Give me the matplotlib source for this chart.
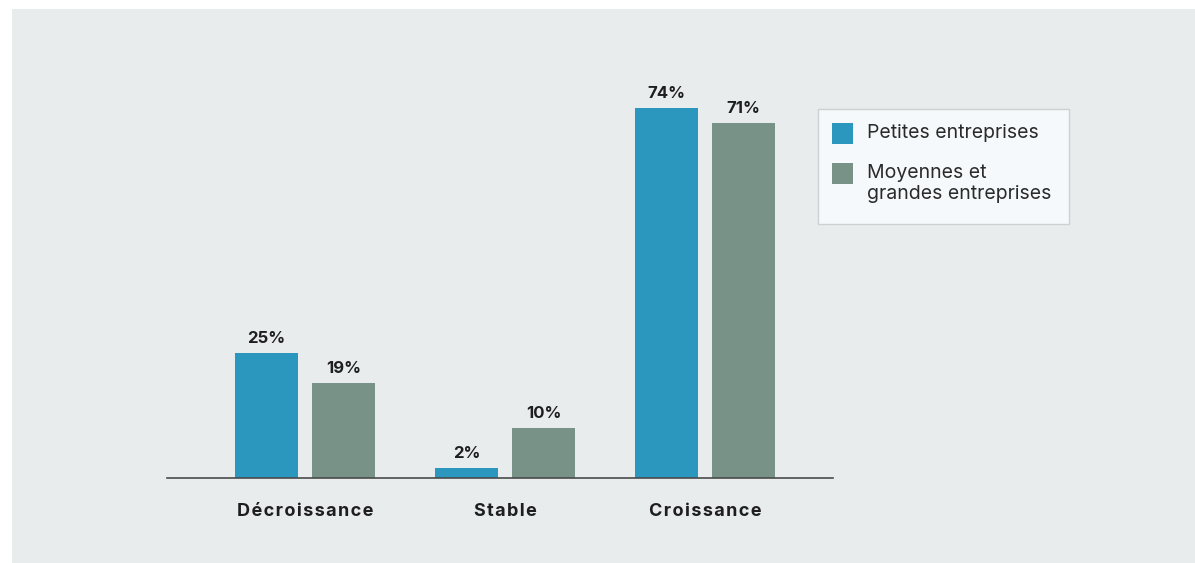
import matplotlib
matplotlib.use("Agg")
import matplotlib.pyplot as plt
from matplotlib.patches import Rectangle
import numpy as np

categories = ["Décroissance", "Stable", "Croissance"]
petites = [25, 2, 74]
moyennes = [19, 10, 71]
series_names = ["Petites entreprises", "Moyennes et\ngrandes entreprises"]

blue = "#2b96be"
grey = "#799287"
bg = "#e8ecec"

plt.rcParams['font.family'] = ['Inter', 'DejaVu Sans']

W, H = 1195, 563
fig = plt.figure(figsize=(W / 100, H / 100), dpi=100)
fig.patch.set_facecolor("white")
# grey panel
fig.patches.append(Rectangle((12 / W, 0), 1 - 12 / W, 1 - 9 / H, transform=fig.transFigure,
                             facecolor=bg, edgecolor="none", zorder=-10))

# axes: x 167..833 px, y baseline 478, top at ~60
ax = fig.add_axes([167 / W, (H - 478) / H, (833 - 167) / W, (478 - 60) / H])
ax.set_facecolor("none")
ax.set_zorder(5)

x = np.arange(len(categories))
bw = 0.315
off = 0.1925
b1 = ax.bar(x - off, petites, bw, color=blue, zorder=2)
b2 = ax.bar(x + off, moyennes, bw, color=grey, zorder=2)

for bars, vals in ((b1, petites), (b2, moyennes)):
    for r, v in zip(bars, vals):
        ax.annotate(f"{v}%", (r.get_x() + r.get_width() / 2, r.get_height()),
                    xytext=(0, 5), textcoords="offset points", ha="center", va="bottom",
                    fontsize=12, fontweight="bold", color="#1e1e1e")

# letter spaced labels
spaced = ["\u200a".join(c) for c in categories]

ax.set_xlim(-0.69, 2.64)
ax.set_ylim(0, 74 * 418 / 370)
ax.set_xticks(x)
ax.set_xticklabels(spaced, fontsize=13, fontweight="bold", color="#1e1e1e")
ax.tick_params(axis="x", length=0, pad=18)
ax.set_yticks([])
for s in ("top", "right", "left"):
    ax.spines[s].set_visible(False)
ax.spines["bottom"].set_color("#4a4a4a")
ax.spines["bottom"].set_linewidth(1.2)

# legend box
lx0, ly0, lx1, ly1 = 818, 109, 1069, 224
fig.patches.append(Rectangle((lx0 / W, 1 - ly1 / H), (lx1 - lx0) / W, (ly1 - ly0) / H,
                             transform=fig.transFigure, facecolor="#f5f9fb",
                             edgecolor="#cdd1d1", linewidth=1, zorder=1))
for i, (name, col) in enumerate(zip(series_names, [blue, grey])):
    sy = 123 + i * 40
    fig.patches.append(Rectangle((832 / W, 1 - (sy + 21) / H), 21 / W, 21 / H,
                                 transform=fig.transFigure, facecolor=col,
                                 edgecolor="none", zorder=2))
    fig.text(867 / W, 1 - (sy + 1) / H, name, fontsize=14, color="#2a2a2a",
             va="top", ha="left", linespacing=1.2)

fig.savefig("out.png", dpi=100)
